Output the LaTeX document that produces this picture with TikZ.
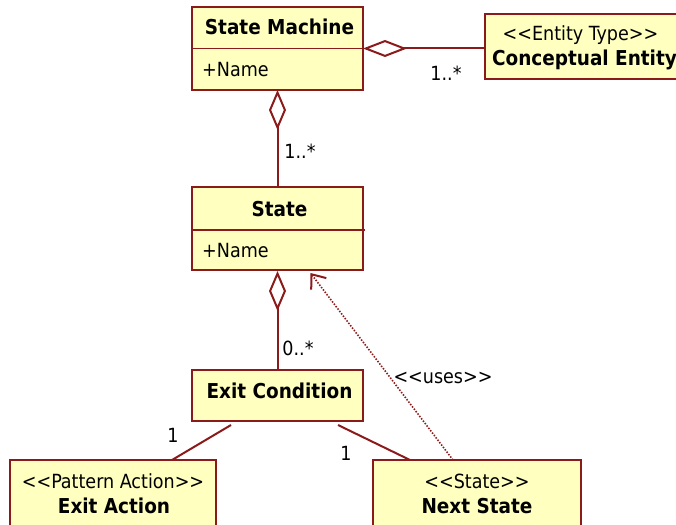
\documentclass[tikz,border=0pt]{standalone}
\usepackage{fontspec}
\setmainfont[Ligatures=NoCommon]{DejaVu Sans Condensed}
\usetikzlibrary{arrows.meta,calc}
\definecolor{umlline}{HTML}{8B1A1A}
\definecolor{umlfill}{HTML}{FFFFC0}
\newcommand{\stereotype}[1]{{<}{<}#1{>}{>}}
\tikzset{
  umlbox/.style={draw=umlline, fill=umlfill, line width=2pt, inner sep=0pt, outer sep=0pt},
  conn/.style={draw=umlline, line width=2pt},
  aggh/.tip={Diamond[open,fill=white,length=44pt,width=17pt,line width=2pt]},
  aggv/.tip={Diamond[open,fill=white,length=40pt,width=17pt,line width=2pt]},
  lbl/.style={font=\fontsize{19.5}{22}\selectfont, inner sep=0pt},
  title/.style={font=\fontsize{20.5}{23}\selectfont\bfseries, inner sep=0pt},
  stereo/.style={font=\fontsize{19.5}{22}\selectfont, inner sep=0pt},
}
\begin{document}
\begin{tikzpicture}[x=1pt,y=-1pt]
\useasboundingbox (0,0) rectangle (676,524);
\clip (0,0) rectangle (676,524);

% class boxes
\node[umlbox, minimum width=171pt, minimum height=83pt] (sm) at (277.5,48.5) {};
\node[umlbox, minimum width=205pt, minimum height=65pt] (ce) at (587.5,46.5) {};
\node[umlbox, minimum width=171pt, minimum height=83pt] (st) at (277.5,228.5) {};
\node[umlbox, minimum width=171pt, minimum height=51pt] (ec) at (277.5,395.5) {};
\node[umlbox, minimum width=206pt, minimum height=70pt] (ea) at (113,495) {};
\node[umlbox, minimum width=208pt, minimum height=70pt] (ns) at (477,495) {};

% compartment dividers
\draw[conn, line width=1.6pt] (sm.west) -- (sm.east);
\draw[conn, line width=1.6pt] ($(st.west)+(0,1.5)$) -- ($(st.east)+(2,1.5)$);

% texts
\node[title] (smt) at ($(sm.north)+(2,20)$) {State Machine};
\node[lbl, anchor=west] (smn) at ($(sm.west)+(10,21)$) {+Name};
\node[stereo] (ces) at ($(ce.north)+(-7,21)$) {\stereotype{Entity Type}};
\node[title] (cet) at ($(ce.north)+(-3,46)$) {Conceptual Entity};
\node[title] (stt) at ($(st.north)+(2,22)$) {State};
\node[lbl, anchor=west] (stn) at ($(st.west)+(10,22)$) {+Name};
\node[title] (ect) at ($(ec.center)+(2,-5)$) {Exit Condition};
\node[stereo] (eas) at ($(ea.north)+(0,21)$) {\stereotype{Pattern Action}};
\node[title] (eat) at ($(ea.north)+(1,46)$) {Exit Action};
\node[stereo] (nss) at ($(ns.north)+(0,21)$) {\stereotype{State}};
\node[title] (nst) at ($(ns.north)+(0,46)$) {Next State};

% aggregations
\draw[conn, {aggh}-] (sm.east) -- (ce.west |- sm.east);
\draw[conn, -{aggv}] (st.north) -- (sm.south);
\draw[conn, -{aggv}] (ec.north) -- ($(st.south)+(0,1)$);

% associations
\draw[conn] ($(ec.south)+(-46.5,4)$) -- ($(ea.north)+(59,0)$);
\draw[conn] ($(ec.south)+(60.5,4)$) -- ($(ns.north)+(-67,0)$);

% dependency
\draw[draw=umlline, line width=1.6pt, dash pattern=on 1.5pt off 1.5pt,
      -{Straight Barb[length=12pt,width=19pt,line width=2pt]}]
  ($(ns.north)+(-24,0)$) -- ($(st.south)+(33,3)$);

% multiplicities and labels
\node[lbl] (m1) at (446,73) {1..*};
\node[lbl] (m2) at (300,151) {1..*};
\node[lbl] (m3) at (298,348) {0..*};
\node[lbl] (m4) at (173,435) {1};
\node[lbl] (m5) at (346,453) {1};
\node[lbl] (uses) at (443,378) {\stereotype{uses}};
\end{tikzpicture}
\end{document}
